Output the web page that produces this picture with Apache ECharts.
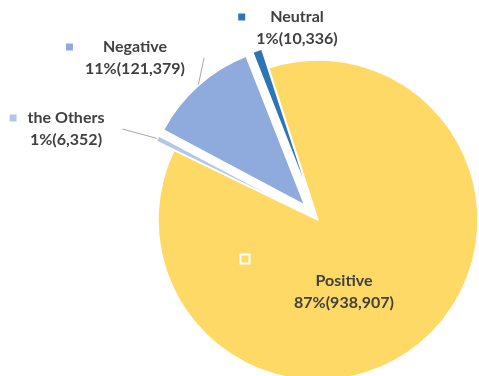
<!DOCTYPE html>
<html>
<head>
<meta charset="utf-8">
<script src="https://cdn.jsdelivr.net/npm/echarts@6/dist/echarts.min.js"></script>
<style>
html,body{margin:0;padding:0;background:#fff;}
#c{width:479px;height:376px;}
</style>
</head>
<body>
<div id="c"></div>
<script>
// Data (clockwise order)
const categories = ['Positive', 'the Others', 'Negative', 'Neutral'];
const values = [938907, 6352, 121379, 10336];
const colors = ['#FFD966', '#B4C7E7', '#8FAADC', '#2E75B6'];
const exploded = [false, true, true, true];

// label placement (style only)
const labelPos = [[344, 281], [66, 129], [135, 58], [297, 28]];
const markerGap = [0, 11, 30, 25];
const showLine = [false, true, true, false];

const textColor = '#404040';
const baseFont = { fontFamily: 'Lato', fontWeight: 'bold', fontSize: 16, color: textColor, lineHeight: 22 };

function fmtNum(v) { return v.toLocaleString('en-US'); }

const pieData = categories.map((name, i) => ({
  name, value: values[i], selected: exploded[i],
  itemStyle: { color: colors[i] }
}));

const labelData = categories.map((name, i) => {
  const rich = {
    n: Object.assign({}, baseFont),
    v: Object.assign({}, baseFont),
    m: { width: 7, height: 7, backgroundColor: colors[i], lineHeight: 22,
         borderColor: i === 0 ? '#fff' : colors[i], borderWidth: i === 0 ? 2 : 0 },
    g: { width: markerGap[i], lineHeight: 22 },
    p: { width: markerGap[i] + 7, lineHeight: 22 },
    sp: { width: 198, lineHeight: 22 }
  };
  return {
    name, value: values[i],
    label: { rich },
    labelLine: { show: showLine[i] }
  };
});

const chart = echarts.init(document.getElementById('c'), null, { renderer: 'canvas' });
chart.setOption({
  animation: false,
  series: [{
    type: 'pie',
    center: [318, 220],
    radius: 160,
    startAngle: 108,
    clockwise: true,
    selectedMode: 'multiple',
    selectedOffset: 20,
    avoidLabelOverlap: false,
    itemStyle: { borderColor: '#fff', borderWidth: 1.5 },
    emphasis: { disabled: true },
    label: { show: false },
    labelLine: { show: false },
    data: pieData
  }, {
    type: 'pie',
    silent: true,
    center: [318, 220],
    radius: 180,
    startAngle: 108,
    clockwise: true,
    avoidLabelOverlap: false,
    percentPrecision: 0,
    itemStyle: { color: 'rgba(0,0,0,0)', borderWidth: 0 },
    emphasis: { disabled: true },
    label: {
      show: true,
      position: 'outside',
      align: 'center',
      formatter: function (p) {
        const line2 = '{v|' + p.percent + '%(' + fmtNum(p.value) + ')}';
        if (p.dataIndex === 0) {
          return '{m|}{sp|}\n{n|' + p.name + '}\n' + line2;
        }
        return '{m|}{g|}{n|' + p.name + '}{p|}\n' + line2;
      }
    },
    labelLine: { show: true, length: 8, length2: 0, smooth: false,
                 lineStyle: { color: '#A6A6A6', width: 1 } },
    labelLayout: function (params) {
      const pos = labelPos[params.dataIndex];
      return { x: pos[0], y: pos[1], align: 'center', verticalAlign: 'middle' };
    },
    data: labelData
  }]
});
</script>
</body>
</html>
